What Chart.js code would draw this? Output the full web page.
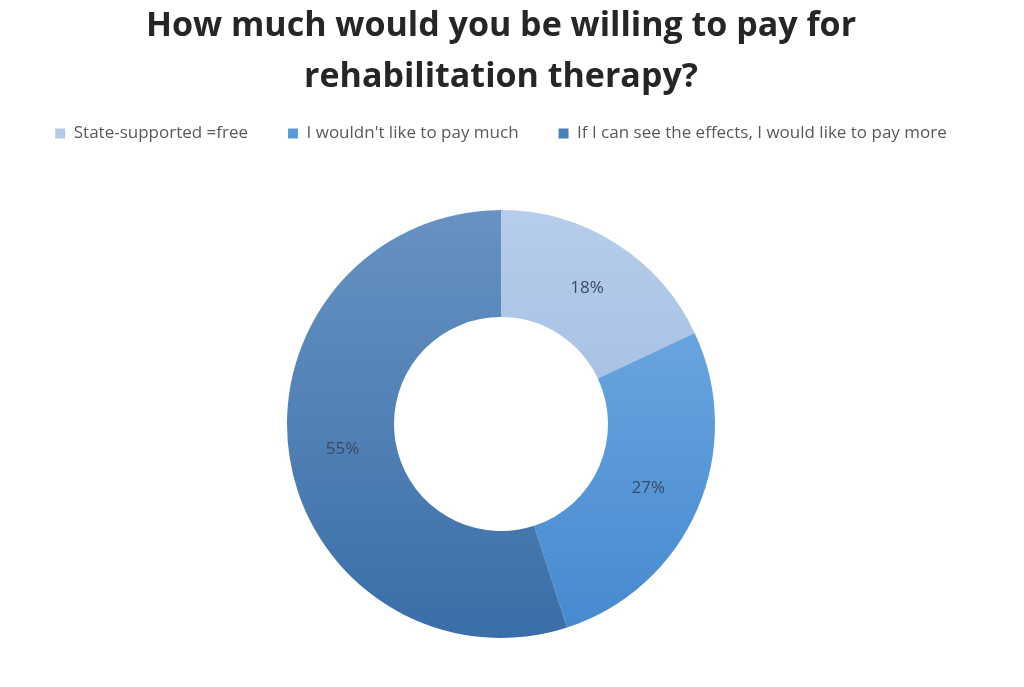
<!DOCTYPE html>
<html>
<head>
<meta charset="utf-8">
<script src="https://cdn.jsdelivr.net/npm/chart.js@4.4.1/dist/chart.umd.min.js"></script>
<style>
  html, body { margin: 0; padding: 0; background: #ffffff; }
  #wrap { width: 1024px; height: 687px; position: relative; }
</style>
</head>
<body>
<div id="wrap"><canvas id="c" width="1024" height="687"></canvas></div>
<script>
const titleLines = ["How much would you be willing to pay for", "rehabilitation therapy?"];
const categories = ["State-supported =free", "I wouldn't like to pay much", "If I can see the effects, I would like to pay more"];
const percentValues = [18, 27, 55];
const percentLabels = ["18%", "27%", "55%"];

// gradient stops per slice (top colour, bottom colour)
const sliceTopColors = ["#b6cdec", "#75afe6", "#6792c2"];
const sliceBottomColors = ["#95b0d6", "#4689cf", "#3a6ea8"];
const legendColors = ["#b4c9e8", "#5b9bd5", "#4a7fb8"];

function sliceGradient(ctx) {
  const chart = ctx.chart;
  const area = chart.chartArea;
  const i = ctx.dataIndex;
  if (!area || i === undefined) return legendColors[i || 0];
  const g = chart.ctx.createLinearGradient(0, area.top, 0, area.bottom);
  g.addColorStop(0, sliceTopColors[i]);
  g.addColorStop(1, sliceBottomColors[i]);
  return g;
}

const labelPlugin = {
  id: 'sliceLabels',
  afterDatasetsDraw(chart) {
    const ctx = chart.ctx;
    const meta = chart.getDatasetMeta(0);
    ctx.save();
    ctx.font = '17px "Open Sans", sans-serif';
    ctx.fillStyle = '#3a4a60';
    ctx.textAlign = 'center';
    ctx.textBaseline = 'middle';
    meta.data.forEach((arc, i) => {
      const p = arc.getCenterPoint();
      ctx.fillText(percentLabels[i], p.x, p.y);
    });
    ctx.restore();
  }
};

// adds extra space below the legend so the ring sits where the reference has it
const legendSpacer = {
  id: 'legendSpacer',
  beforeLayout(chart) {
    const lg = chart.legend;
    if (lg && !lg._spacerPatched) {
      const origFit = lg.fit;
      lg.fit = function () {
        origFit.call(this);
        this.height += 58;
      };
      lg._spacerPatched = true;
    }
  }
};

new Chart(document.getElementById('c'), {
  type: 'doughnut',
  data: {
    labels: categories,
    datasets: [{
      data: percentValues,
      backgroundColor: sliceGradient,
      borderWidth: 0,
      hoverOffset: 0
    }]
  },
  options: {
    responsive: false,
    animation: false,
    cutout: '50%',
    layout: { padding: { left: 0, right: 22, top: 0, bottom: 49 } },
    plugins: {
      tooltip: { enabled: false },
      title: {
        display: true,
        text: titleLines,
        color: '#262626',
        font: { family: '"Open Sans", sans-serif', size: 34, weight: 'bold', lineHeight: 1.5 },
        padding: { top: 1, bottom: -18 }
      },
      legend: {
        display: true,
        position: 'top',
        labels: {
          color: '#595959',
          font: { family: '"Open Sans", sans-serif', size: 17 },
          boxWidth: 10,
          boxHeight: 10,
          padding: 40,
          generateLabels(chart) {
            return categories.map((c, i) => ({
              text: c,
              fillStyle: legendColors[i],
              strokeStyle: legendColors[i],
              lineWidth: 0,
              hidden: false,
              index: i,
              fontColor: '#595959'
            }));
          }
        }
      }
    }
  },
  plugins: [labelPlugin, legendSpacer]
});
</script>
</body>
</html>
